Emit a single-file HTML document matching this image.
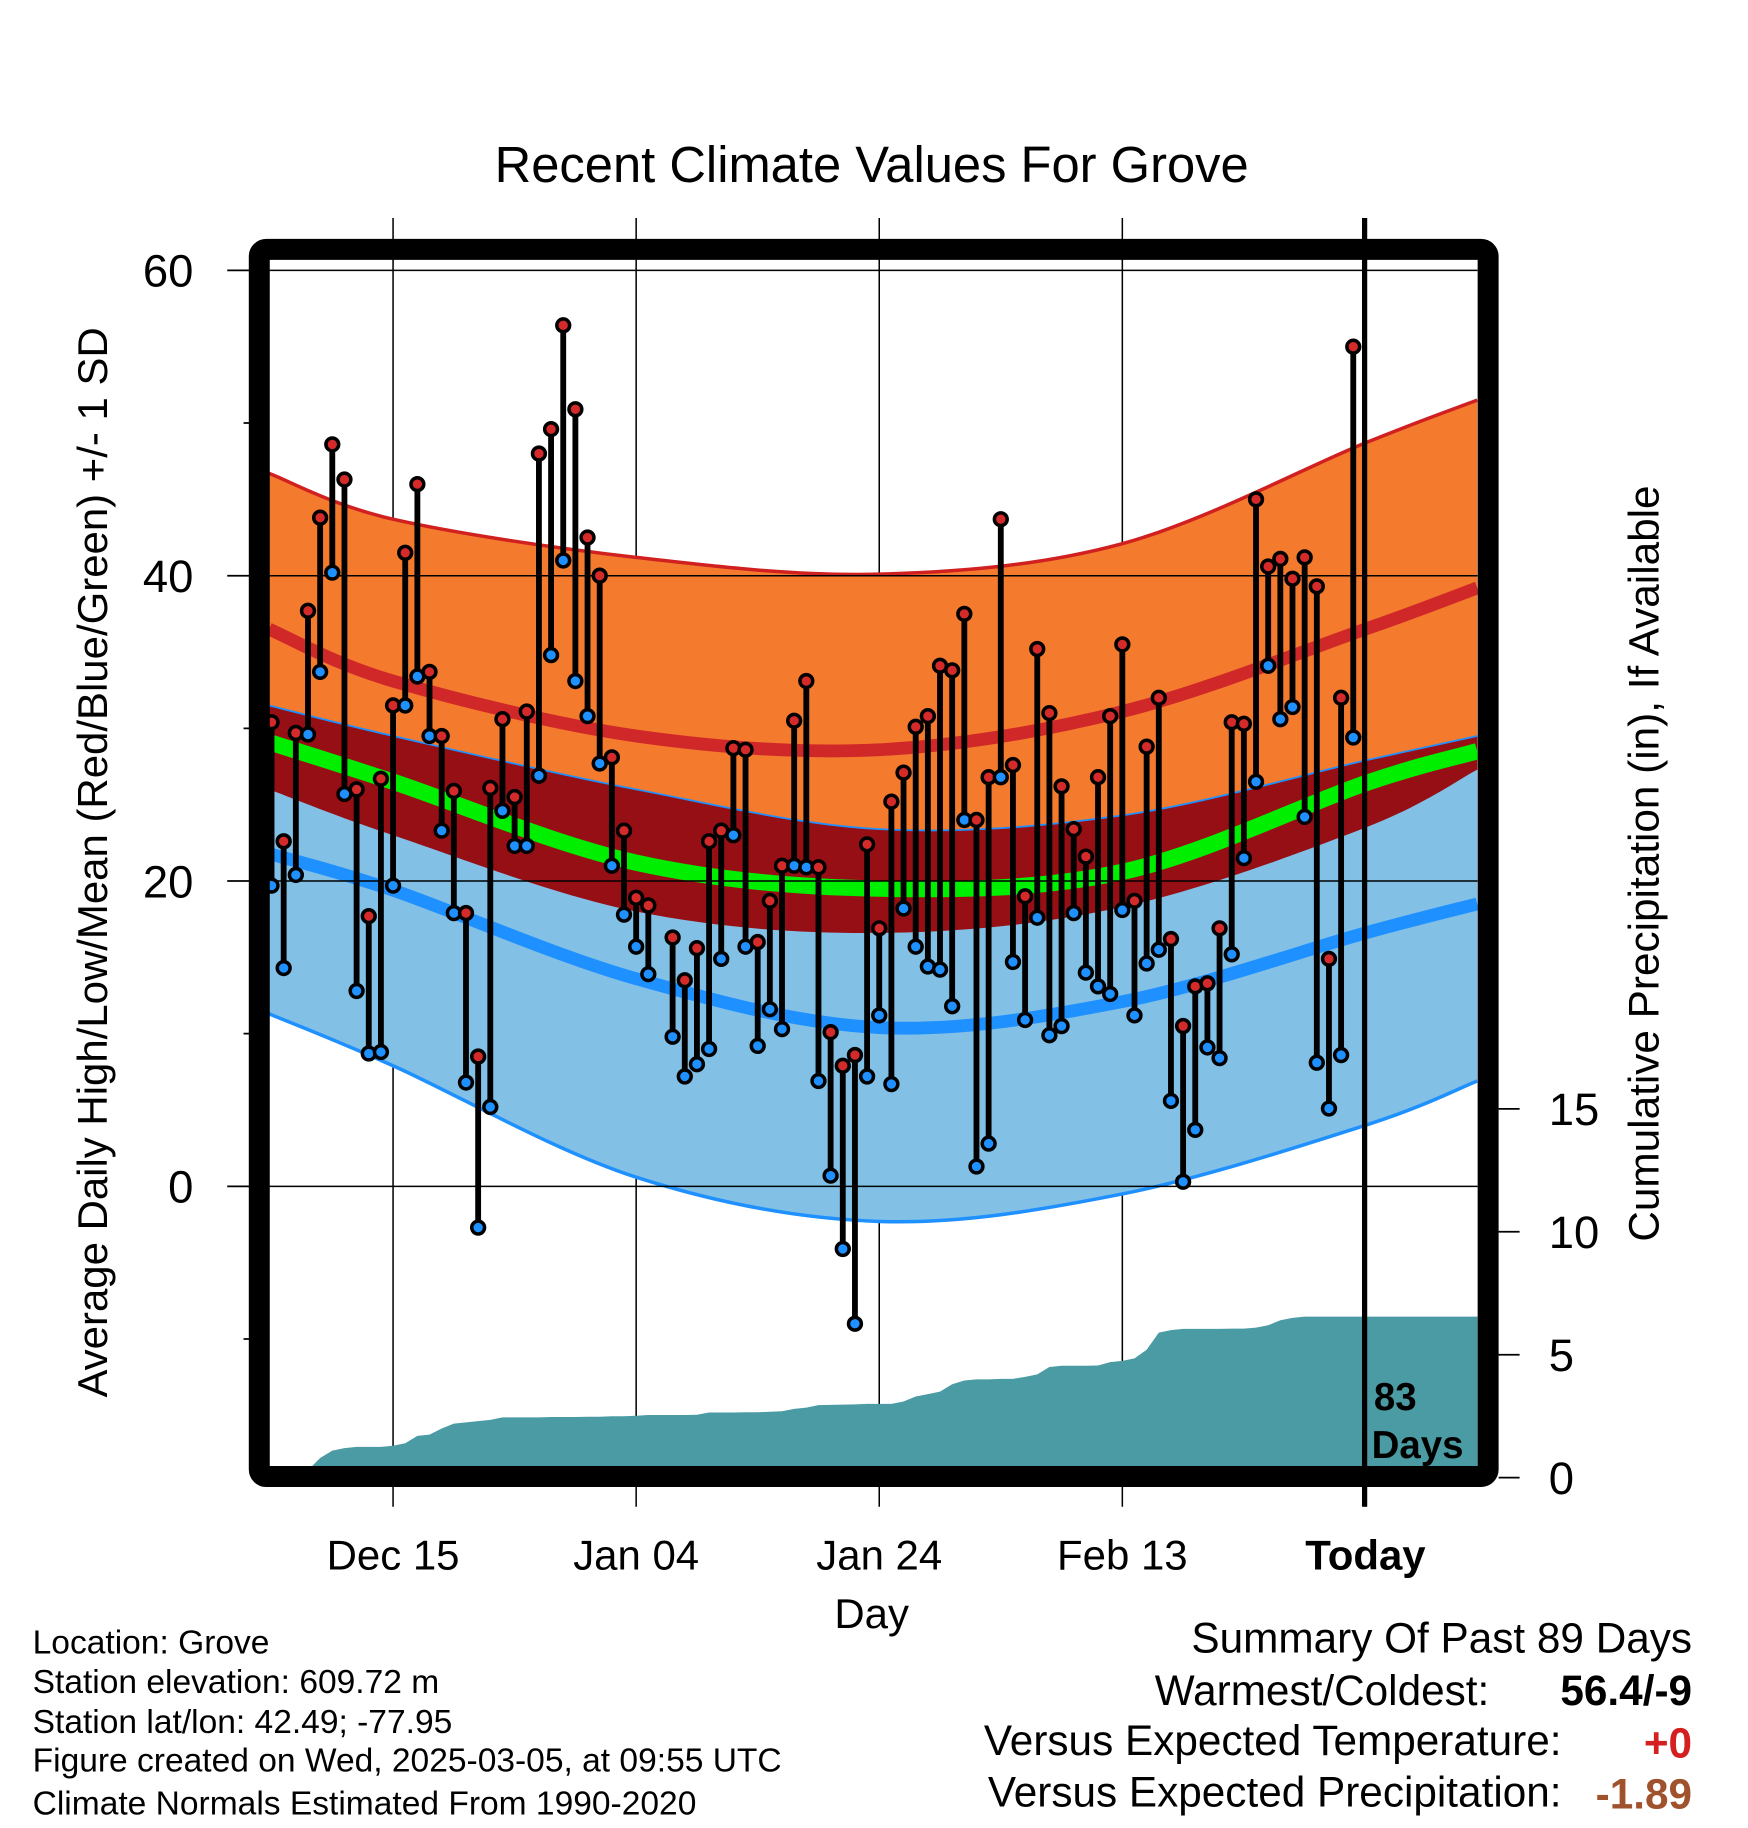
<!DOCTYPE html>
<html><head><meta charset="utf-8"><style>
html,body{margin:0;padding:0;background:#fff;}
svg{display:block;font-family:"Liberation Sans",sans-serif;}
</style></head><body>
<svg id="chart" width="1748" height="1828" viewBox="0 0 1500 1568.6" xmlns="http://www.w3.org/2000/svg">
<defs><clipPath id="plotclip"><rect x="231" y="223" width="1037" height="1035"/></clipPath></defs>
<text x="748" y="156" font-size="43.5" text-anchor="middle">Recent Climate Values For Grove</text>
<g id="grid"></g>
<g id="plot" clip-path="url(#plotclip)">
  <g id="bands"></g>
  <g id="precip"></g>
  <g id="gridin"></g>
  <g id="marks"></g>
</g>
<line x1="1171" y1="187" x2="1171" y2="1293" stroke="#000" stroke-width="4.5"/>
<rect x="222.5" y="214" width="1054.5" height="1053" rx="6" fill="none" stroke="#000" stroke-width="18"/>
<text x="1179" y="1210" font-size="33" font-weight="bold">83</text>
<text x="1177" y="1251" font-size="33" font-weight="bold">Days</text>
<g id="axes"></g>
<text transform="translate(92,740) rotate(-90)" font-size="36" text-anchor="middle">Average Daily High/Low/Mean (Red/Blue/Green) +/- 1 SD</text>
<text transform="translate(1423,741) rotate(-90)" font-size="36.3" text-anchor="middle">Cumulative Precipitation (in), If Available</text>
<text x="748" y="1397" font-size="36" text-anchor="middle">Day</text>
<g font-size="28.8">
<text x="28" y="1419">Location: Grove</text>
<text x="28" y="1453">Station elevation: 609.72 m</text>
<text x="28" y="1487">Station lat/lon: 42.49; -77.95</text>
<text x="28" y="1520">Figure created on Wed, 2025-03-05, at 09:55 UTC</text>
<text x="28" y="1557">Climate Normals Estimated From 1990-2020</text>
</g>
<g font-size="36.3">
<text x="1452" y="1418" text-anchor="end">Summary Of Past 89 Days</text>
<text x="1278" y="1463" text-anchor="end">Warmest/Coldest:</text>
<text x="1452" y="1463" text-anchor="end" font-weight="bold">56.4/-9</text>
<text x="1340" y="1506" text-anchor="end">Versus Expected Temperature:</text>
<text x="1452" y="1508" text-anchor="end" font-weight="bold" fill="#d42020">+0</text>
<text x="1340" y="1550" text-anchor="end">Versus Expected Precipitation:</text>
<text x="1452" y="1552" text-anchor="end" font-weight="bold" fill="#a0522d">-1.89</text>
</g>
</svg>
<script>
const highs=[30.4,22.6,29.7,37.7,43.8,48.6,46.3,26.0,17.7,26.7,31.5,41.5,46.0,33.7,29.5,25.9,17.9,8.5,26.1,30.6,25.5,31.1,48.0,49.6,56.4,50.9,42.5,40.0,28.1,23.3,18.9,18.4,null,16.3,13.5,15.6,22.6,23.3,28.7,28.6,16.0,18.7,21.0,30.5,33.1,20.9,10.1,7.9,8.6,22.4,16.9,25.2,27.1,30.1,30.8,34.1,33.8,37.5,24.0,26.8,43.7,27.6,19.0,35.2,31.0,26.2,23.4,21.6,26.8,30.8,35.5,18.7,28.8,32.0,16.2,10.5,13.1,13.3,16.9,30.4,30.3,45.0,40.6,41.1,39.8,41.2,39.3,14.9,32.0,55.0];
const lows=[19.7,14.3,20.4,29.6,33.7,40.2,25.7,12.8,8.7,8.8,19.7,31.5,33.4,29.5,23.3,17.9,6.8,-2.7,5.2,24.6,22.3,22.3,26.9,34.8,41.0,33.1,30.8,27.7,21.0,17.8,15.7,13.9,null,9.8,7.2,8.0,9.0,14.9,23.0,15.7,9.2,11.6,10.3,21.0,20.9,6.9,0.7,-4.1,-9.0,7.2,11.2,6.7,18.2,15.7,14.4,14.2,11.8,24.0,1.3,2.8,26.8,14.7,10.9,17.6,9.9,10.5,17.9,14.0,13.1,12.6,18.1,11.2,14.6,15.5,5.6,0.3,3.7,9.1,8.4,15.2,21.5,26.5,34.1,30.6,31.4,24.2,8.1,5.1,8.6,29.4];
const precipCum=[0,0,0,0.3,0.8,1.1,1.2,1.25,1.25,1.25,1.3,1.4,1.7,1.75,2.0,2.2,2.25,2.3,2.35,2.45,2.45,2.45,2.45,2.47,2.47,2.47,2.48,2.48,2.5,2.5,2.52,2.55,2.55,2.55,2.55,2.56,2.65,2.65,2.65,2.66,2.66,2.68,2.7,2.8,2.85,2.95,2.96,2.97,2.98,3.0,3.0,3.0,3.1,3.3,3.4,3.5,3.8,3.95,4.0,4.0,4.02,4.02,4.1,4.2,4.5,4.55,4.55,4.55,4.56,4.7,4.75,4.85,5.2,5.9,6.0,6.05,6.05,6.05,6.05,6.06,6.06,6.1,6.2,6.4,6.5,6.55,6.55,6.55,6.55,6.55];
const normDays=[-0.2,10,30,50,70,90,99.2];
const hiUp=[46.7,43.7,41.2,40.1,42.1,48.7,51.5];
const hiMean=[36.5,33.1,29.5,28.6,31.1,36.5,39.2];
const loUp=[31.5,29.5,26.0,23.4,24.3,27.9,29.5];
const hiDn=[26.0,23.0,18.0,16.6,18.3,23.5,27.3];
const meanT=[29.1,26.5,21.2,19.5,20.6,26.4,28.5];
const loMean=[21.8,19.4,13.6,10.4,12.1,16.6,18.5];
const loDn=[11.3,7.9,0.6,-2.3,-0.5,4.0,6.9];
const yTicks=[60,40,20,0];
const yMinor=[50,30,10,-10];
const pTicks=[0,5,10,15];
const xTickDays=[10,30,50,70,90];
const xTickLabels=["Dec 15","Jan 04","Jan 24","Feb 13","Today"];

const NS="http://www.w3.org/2000/svg";
const X=d=>233+d*10.43;
const Y=v=>1018-v*13.1;
const YP=p=>1268-p*21.1;
function mk(tag,attrs,parent){const e=document.createElementNS(NS,tag);for(const k in attrs)e.setAttribute(k,attrs[k]);parent.appendChild(e);return e;}
function smoothPts(vals){return normDays.map((d,i)=>[X(d),Y(vals[i])]);}
function crPath(pts,move){let s=(move?"M":"L")+pts[0][0]+","+pts[0][1];
 for(let i=0;i<pts.length-1;i++){const p0=pts[Math.max(0,i-1)],p1=pts[i],p2=pts[i+1],p3=pts[Math.min(pts.length-1,i+2)];
  const c1=[p1[0]+(p2[0]-p0[0])/6,p1[1]+(p2[1]-p0[1])/6],c2=[p2[0]-(p3[0]-p1[0])/6,p2[1]-(p3[1]-p1[1])/6];
  s+=" C"+c1[0]+","+c1[1]+" "+c2[0]+","+c2[1]+" "+p2[0]+","+p2[1];}
 return s;}
function band(top,bot,fill,name){const a=smoothPts(top),b=smoothPts(bot).reverse();
 const p=mk("path",{d:crPath(a,true)+" "+crPath(b,false)+" Z",fill:fill},document.getElementById("bands"));
 
 }
function line(vals,color,w,name){const p=mk("path",{d:crPath(smoothPts(vals),true),fill:"none",stroke:color,"stroke-width":w},document.getElementById("bands"));
 
 }
band(hiUp,hiDn,"#f47a2e","high-sd-band");
band(loUp,loDn,"#82c0e6","low-sd-band");
band(loUp,hiDn,"#960f14","overlap-band");
line(hiUp,"#d02020",3,"high-upper-line");
line(loDn,"#1e90ff",3,"low-lower-line");
line(loUp,"#1e90ff",1.5,"low-upper-line");
line(hiMean,"#d02828",11,"mean-high-line");
line(loMean,"#1e90ff",11,"mean-low-line");
line(meanT,"#00ee00",14,"mean-line");

(function(){let d="M"+X(0)+","+YP(0);
 precipCum.forEach((p,i)=>{d+=" L"+X(i)+","+YP(p);});
 d+=" L1268,"+YP(precipCum[precipCum.length-1])+" L1268,"+YP(0)+" Z";
 const p=mk("path",{d:d,fill:"#4a9ba4"},document.getElementById("precip"));
 
 })();

const gi=document.getElementById("gridin"),g=document.getElementById("grid"),ax=document.getElementById("axes");
yTicks.forEach(v=>{const l=mk("line",{x1:231,x2:1268,y1:Y(v),y2:Y(v),stroke:"#000","stroke-width":1.3},gi);
 
 
 const t=mk("line",{x1:195,x2:231,y1:Y(v),y2:Y(v),stroke:"#000","stroke-width":1.5},ax);
 
 
 const tx=mk("text",{x:166,y:Y(v)+14,"font-size":39,"text-anchor":"end"},ax);tx.textContent=v;
 
 });
yMinor.forEach(v=>{const t=mk("line",{x1:209,x2:231,y1:Y(v),y2:Y(v),stroke:"#000","stroke-width":1.5},ax);
 
 });
xTickDays.forEach((d,i)=>{const l=mk("line",{x1:X(d),x2:X(d),y1:187,y2:1293,stroke:"#000","stroke-width":1.3},g);
 
 
 const t=mk("text",{x:X(d),y:1347,"font-size":36,"text-anchor":"middle"},ax);t.textContent=xTickLabels[i];
 if(xTickLabels[i]==="Today")t.setAttribute("font-weight","bold");
 
 });
pTicks.forEach(p=>{const t=mk("line",{x1:1286,x2:1304,y1:YP(p),y2:YP(p),stroke:"#000","stroke-width":1.5},ax);
 
 
 const tx=mk("text",{x:1329,y:YP(p)+14,"font-size":39},ax);tx.textContent=p;
 
 });

const m=document.getElementById("marks");
highs.forEach((h,i)=>{const lo=lows[i];if(h===null||lo===null)return;
 const s=mk("line",{x1:X(i),x2:X(i),y1:Y(h),y2:Y(lo),stroke:"#000","stroke-width":5},m);
 
 });
highs.forEach((h,i)=>{const lo=lows[i];if(h===null||lo===null)return;
 const c1=mk("circle",{cx:X(i),cy:Y(lo),r:5.5,fill:"#1e90ff",stroke:"#000","stroke-width":3},m);
 
 
 const c2=mk("circle",{cx:X(i),cy:Y(h),r:5.5,fill:"#d42a2a",stroke:"#000","stroke-width":3},m);
 
 });
</script>
</body></html>
